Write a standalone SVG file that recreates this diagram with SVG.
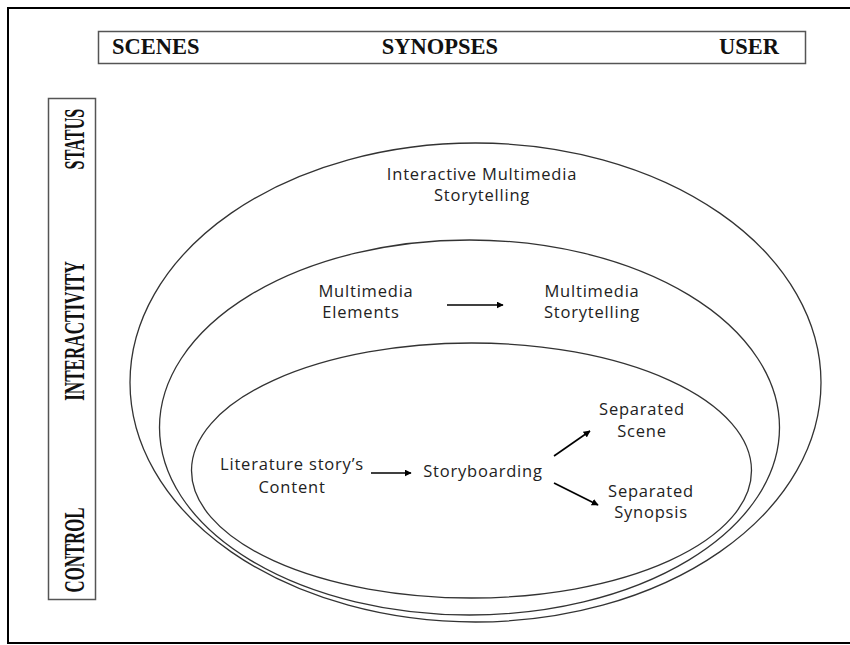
<svg xmlns="http://www.w3.org/2000/svg" width="850" height="645" viewBox="0 0 850 645">
  <style>
    .frame { fill: none; stroke: #000; stroke-width: 2; }
    .box { fill: #fff; stroke: #555; stroke-width: 1.5; }
    .ell { fill: none; stroke: #333; stroke-width: 1.3; }
    .hdr { font-family: "Liberation Serif", "Times New Roman", serif; font-weight: bold; font-size: 22.5px; fill: #111; }
    .vhdr { font-family: "Liberation Serif", "Times New Roman", serif; font-weight: bold; font-size: 29px; fill: #111; text-anchor: middle; }
    .lbl { font-family: "Open Sans", "Noto Sans", sans-serif; font-size: 16.5px; fill: #222; text-anchor: middle; letter-spacing: 0.8px; }
    .conn { stroke: #000; stroke-width: 1.6; fill: none; marker-end: url(#ah); }
  </style>
  <defs>
    <marker id="ah" viewBox="0 0 10 10" refX="9" refY="5" markerWidth="7" markerHeight="7" markerUnits="userSpaceOnUse" orient="auto">
      <path d="M0,0 L10,5 L0,10 z" fill="#000"/>
    </marker>
  </defs>
  <rect x="0" y="0" width="850" height="645" fill="#fff"/>
  <rect class="frame" x="8" y="8" width="870" height="635"/>

  <g id="header-box">
    <rect class="box" x="98.5" y="31.5" width="707" height="32"/>
    <text class="hdr" x="112" y="54">SCENES</text>
    <text class="hdr" x="440" y="54" text-anchor="middle">SYNOPSES</text>
    <text class="hdr" x="779" y="54" text-anchor="end">USER</text>
  </g>

  <g id="side-box">
    <rect class="box" x="48.5" y="98.5" width="47" height="501"/>
    <text class="vhdr" transform="translate(84,139) rotate(-90) scale(0.56,1)">STATUS</text>
    <text class="vhdr" transform="translate(84,331) rotate(-90) scale(0.59,1)">INTERACTIVITY</text>
    <text class="vhdr" transform="translate(84,550) rotate(-90) scale(0.58,1)">CONTROL</text>
  </g>

  <g id="outer-ellipse">
    <ellipse class="ell" cx="475.5" cy="382.5" rx="345.5" ry="239.5"/>
    <text class="lbl" x="482" y="180">Interactive Multimedia</text>
    <text class="lbl" x="482" y="201">Storytelling</text>
  </g>

  <g id="middle-ellipse">
    <ellipse class="ell" cx="469.5" cy="427.5" rx="310" ry="187.5"/>
  </g>

  <g id="inner-ellipse">
    <ellipse class="ell" cx="471.5" cy="470.5" rx="280" ry="127.5"/>
  </g>

  <g id="multimedia-elements">
    <text class="lbl" x="366" y="297">Multimedia</text>
    <text class="lbl" x="361" y="318">Elements</text>
  </g>
  <g id="multimedia-storytelling">
    <text class="lbl" x="592" y="297">Multimedia</text>
    <text class="lbl" x="592" y="318">Storytelling</text>
  </g>
  <g id="literature-content">
    <text class="lbl" x="292" y="470">Literature story’s</text>
    <text class="lbl" x="292" y="493">Content</text>
  </g>
  <g id="storyboarding">
    <text class="lbl" x="483" y="477">Storyboarding</text>
  </g>
  <g id="separated-scene">
    <text class="lbl" x="642" y="415">Separated</text>
    <text class="lbl" x="642" y="437">Scene</text>
  </g>
  <g id="separated-synopsis">
    <text class="lbl" x="651" y="497">Separated</text>
    <text class="lbl" x="651" y="518">Synopsis</text>
  </g>

  <g id="connectors">
    <line class="conn" x1="447" y1="305" x2="503" y2="305"/>
    <line class="conn" x1="371" y1="473" x2="411" y2="473"/>
    <line class="conn" x1="554" y1="456" x2="590" y2="431"/>
    <line class="conn" x1="554" y1="483" x2="598" y2="505"/>
  </g>
</svg>
